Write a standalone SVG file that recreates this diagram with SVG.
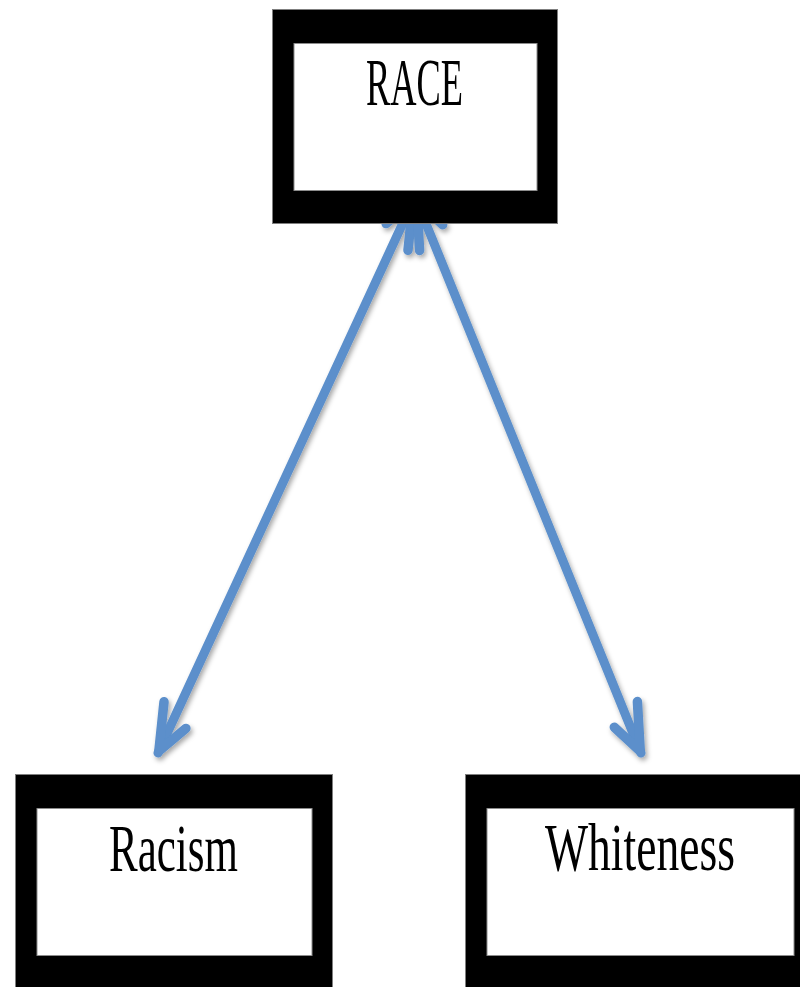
<svg xmlns="http://www.w3.org/2000/svg" width="800" height="987" viewBox="0 0 800 987">
  <style>
    .outer { fill: #000000; stroke: #7f7f7f; stroke-width: 1; }
    .inner { fill: #ffffff; stroke: #8c8c8c; stroke-width: 1; }
    .label { font-family: "Liberation Serif", "Times New Roman", serif; font-size: 67px; fill: #000000; text-anchor: middle; }
    .conn { fill: none; stroke: #5B8FCB; stroke-width: 9; stroke-linecap: round; }
    .head { fill: none; stroke: #5B8FCB; stroke-width: 9.5; stroke-linecap: round; stroke-linejoin: round; }
  </style>
  <defs>
    <filter id="shadow" x="-20%" y="-20%" width="140%" height="140%">
      <feDropShadow dx="2" dy="3" stdDeviation="2.5" flood-color="#000000" flood-opacity="0.35"/>
    </filter>
    <marker id="headA" viewBox="-65 -30 75 60" markerUnits="userSpaceOnUse" markerWidth="75" markerHeight="60" refX="0" refY="0" orient="auto-start-reverse">
      <path class="head" d="M -49 16 L -2 0 L -34 -15"/>
    </marker>
    <marker id="headB" viewBox="-65 -30 75 60" markerUnits="userSpaceOnUse" markerWidth="75" markerHeight="60" refX="0" refY="0" orient="auto-start-reverse">
      <path class="head" d="M -49 -16 L -2 0 L -34 15"/>
    </marker>
  </defs>
  <rect width="800" height="987" fill="#ffffff"/>

  <g id="connectors" filter="url(#shadow)">
    <path class="conn" d="M 158 753 L 414 199" marker-start="url(#headA)" marker-end="url(#headA)"/>
    <path class="conn" d="M 641 753 L 416 199" marker-start="url(#headB)" marker-end="url(#headB)"/>
  </g>

  <g id="node-race">
    <rect class="outer" x="272.5" y="9.5" width="285" height="214"/>
    <rect class="inner" x="294" y="43.5" width="243" height="147"/>
    <text class="label" transform="translate(414.5 105) scale(0.543 1)">RACE</text>
  </g>

  <g id="node-racism">
    <rect class="outer" x="15.5" y="774.5" width="317" height="220"/>
    <rect class="inner" x="37" y="808.5" width="275" height="147"/>
    <text class="label" transform="translate(173.5 871) scale(0.642 1)">Racism</text>
  </g>

  <g id="node-whiteness">
    <rect class="outer" x="465.5" y="774.5" width="345" height="220"/>
    <rect class="inner" x="487" y="808.5" width="307" height="147"/>
    <text class="label" transform="translate(640 870) scale(0.681 1)">Whiteness</text>
  </g>
</svg>
